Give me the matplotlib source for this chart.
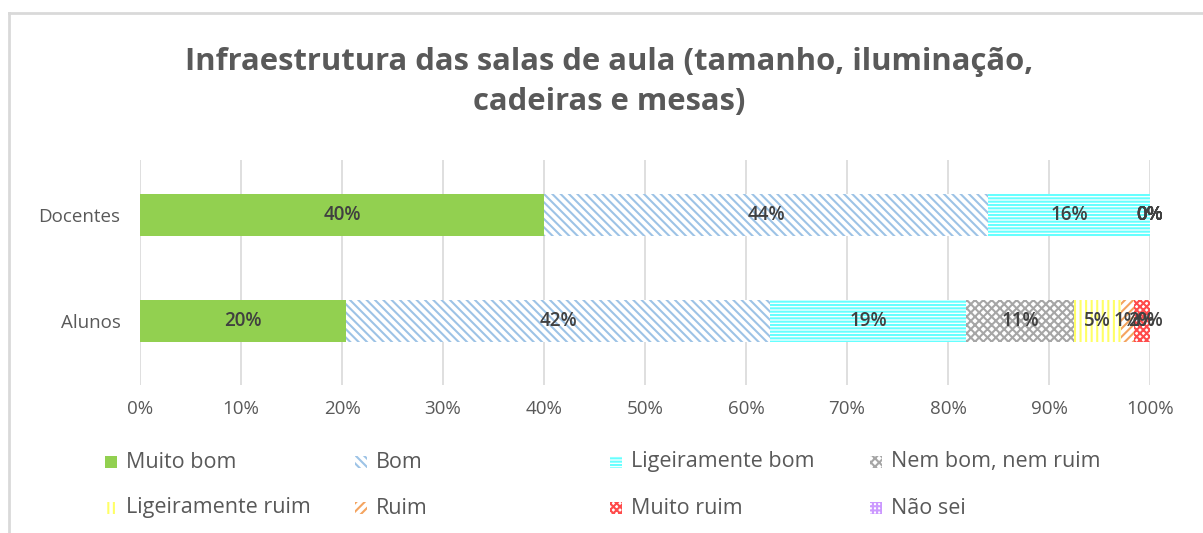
import matplotlib.pyplot as plt
from matplotlib.patches import Rectangle
from matplotlib.lines import Line2D

plt.rcParams['font.family'] = ['Open Sans', 'DejaVu Sans']
plt.rcParams['hatch.linewidth'] = 1.5

# dados (%)
grupos = ['Alunos', 'Docentes']
categorias = ['Muito bom', 'Bom', 'Ligeiramente bom', 'Nem bom, nem ruim',
              'Ligeiramente ruim', 'Ruim', 'Muito ruim', 'Não sei']
alunos = [20.4, 42.0, 19.4, 10.7, 4.6, 1.3, 1.6, 0.0]
docentes = [40.0, 44.0, 16.0, 0.0, 0.0, 0.0, 0.0, 0.0]
xticks = [0, 10, 20, 30, 40, 50, 60, 70, 80, 90, 100]

# estilo de cada série
cores = ['#92D050', '#9DC3E6', '#66FFFF', '#A6A6A6',
         '#FFFF66', '#F4A460', '#FF4B4B', '#CC99FF']
hachuras = [None, '\\\\\\\\', '-----', 'xxxx', '|||', '////', 'xxxxx', '++++']

cinza = '#595959'

fig = plt.figure(figsize=(12.03, 5.33), dpi=100)
ax = fig.add_axes([0.1164, 0.278, 0.9560 - 0.1164, 0.422])

esq = [0.0, 0.0]
for i, cat in enumerate(categorias):
    vals = [alunos[i], docentes[i]]
    if hachuras[i] is None:
        ax.barh([0, 1], vals, left=esq, height=0.4, color=cores[i],
                linewidth=0, zorder=2)
    else:
        ax.barh([0, 1], vals, left=esq, height=0.4, facecolor='white',
                edgecolor=cores[i], hatch=hachuras[i], linewidth=0, zorder=2)
    for j in range(2):
        ax.text(esq[j] + vals[j] / 2, j, f'{round(vals[j]):.0f}%',
                ha='center', va='center', fontsize=13.5, color='#404040',
                fontweight='semibold', zorder=3)
    esq = [esq[0] + vals[0], esq[1] + vals[1]]

ax.set_xlim(0, 100)
ax.set_ylim(-0.6, 1.52)
ax.set_xticks(xticks)
ax.set_xticklabels([f'{t}%' for t in xticks])
ax.set_yticks([0, 1])
ax.set_yticklabels(grupos)
ax.tick_params(length=0, labelsize=13.5, labelcolor=cinza)
ax.tick_params(axis='y', pad=14)
ax.tick_params(axis='x', pad=11)
ax.grid(axis='x', color='#D9D9D9', linewidth=1.2, zorder=0)
for s in ax.spines.values():
    s.set_visible(False)

fig.text(0.506, 0.846, 'Infraestrutura das salas de aula (tamanho, iluminação,\ncadeiras e mesas)',
         ha='center', va='center', fontsize=22.3, fontweight='bold', color=cinza,
         linespacing=1.4)

# legenda manual
xs = [105, 355, 610, 870]
ys = [462, 508]
W, H = 1203, 533
for i, cat in enumerate(categorias):
    x = xs[i % 4]
    y = ys[i // 4]
    sq = 12
    if hachuras[i] is None:
        r = Rectangle((x / W, (H - y - sq / 2) / H), sq / W, sq / H,
                      transform=fig.transFigure, facecolor=cores[i], linewidth=0)
    else:
        r = Rectangle((x / W, (H - y - sq / 2) / H), sq / W, sq / H,
                      transform=fig.transFigure, facecolor='white',
                      edgecolor=cores[i], hatch=hachuras[i], linewidth=0)
    fig.add_artist(r)
    fig.text((x + sq + 9) / W, (H - y) / H, cat, ha='left', va='center',
             fontsize=15.5, color=cinza)

# moldura
fig.add_artist(Line2D([9 / W, 1.0], [1 - 13 / H, 1 - 13 / H],
                      transform=fig.transFigure, color='#D9D9D9', linewidth=2))
fig.add_artist(Line2D([9 / W, 9 / W], [0, 1 - 13 / H],
                      transform=fig.transFigure, color='#D9D9D9', linewidth=2))

fig.savefig('out.png', dpi=100)
